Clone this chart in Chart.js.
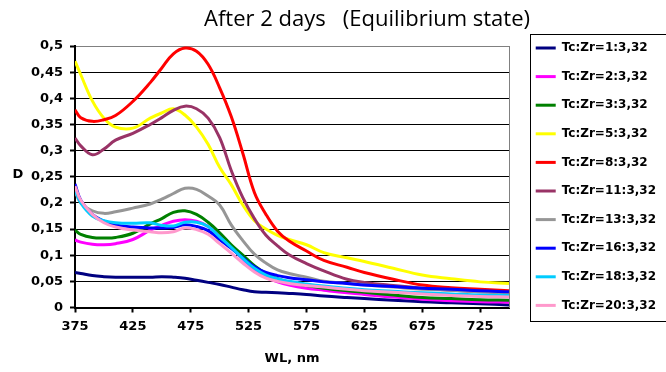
<!DOCTYPE html>
<html>
<head>
<meta charset="utf-8">
<script src="https://cdn.jsdelivr.net/npm/chart.js@4.4.0/dist/chart.umd.min.js"></script>
<style>
  html, body { margin: 0; padding: 0; background: #fff; }
</style>
</head>
<body>
<canvas id="myChart" width="666" height="372"></canvas>
<script>
// 波長 (nm)
var wl = [375, 380, 390, 400, 410, 425, 440, 450, 460, 470, 480, 490, 500, 510, 520, 530, 540, 550, 560, 575, 590, 610, 625, 650, 675, 700, 725, 750];

// 各系列の吸光度 D
var d1  = [0.067, 0.065, 0.061, 0.059, 0.058, 0.058, 0.058, 0.059, 0.058, 0.056, 0.052, 0.048, 0.044, 0.039, 0.034, 0.030, 0.029, 0.028, 0.027, 0.025, 0.022, 0.019, 0.017, 0.014, 0.011, 0.009, 0.007, 0.005];
var d2  = [0.129, 0.125, 0.121, 0.120, 0.122, 0.130, 0.148, 0.157, 0.165, 0.168, 0.165, 0.155, 0.138, 0.115, 0.093, 0.073, 0.058, 0.049, 0.043, 0.037, 0.033, 0.028, 0.025, 0.020, 0.016, 0.013, 0.011, 0.010];
var d3  = [0.148, 0.140, 0.134, 0.133, 0.134, 0.142, 0.160, 0.170, 0.182, 0.185, 0.178, 0.163, 0.143, 0.120, 0.100, 0.080, 0.065, 0.055, 0.048, 0.042, 0.037, 0.032, 0.029, 0.024, 0.019, 0.017, 0.015, 0.014];
var d5  = [0.471, 0.445, 0.395, 0.362, 0.345, 0.343, 0.362, 0.372, 0.380, 0.368, 0.345, 0.312, 0.268, 0.235, 0.196, 0.166, 0.150, 0.138, 0.130, 0.120, 0.105, 0.095, 0.088, 0.075, 0.062, 0.055, 0.049, 0.046];
var d8  = [0.378, 0.363, 0.356, 0.359, 0.367, 0.394, 0.430, 0.458, 0.485, 0.496, 0.490, 0.465, 0.420, 0.365, 0.295, 0.220, 0.178, 0.146, 0.127, 0.108, 0.090, 0.077, 0.067, 0.054, 0.043, 0.038, 0.035, 0.032];
var d11 = [0.324, 0.309, 0.292, 0.303, 0.320, 0.333, 0.350, 0.363, 0.377, 0.385, 0.380, 0.362, 0.325, 0.262, 0.210, 0.170, 0.138, 0.118, 0.101, 0.084, 0.070, 0.054, 0.048, 0.042, 0.037, 0.033, 0.030, 0.028];
var d13 = [0.222, 0.200, 0.185, 0.180, 0.183, 0.190, 0.198, 0.207, 0.218, 0.228, 0.226, 0.213, 0.196, 0.158, 0.128, 0.102, 0.085, 0.072, 0.065, 0.058, 0.050, 0.046, 0.043, 0.039, 0.035, 0.033, 0.030, 0.028];
var d16 = [0.236, 0.205, 0.178, 0.165, 0.158, 0.154, 0.152, 0.152, 0.153, 0.158, 0.155, 0.147, 0.130, 0.113, 0.095, 0.078, 0.067, 0.061, 0.057, 0.053, 0.049, 0.046, 0.043, 0.040, 0.037, 0.035, 0.032, 0.030];
var d18 = [0.225, 0.200, 0.175, 0.166, 0.162, 0.161, 0.162, 0.157, 0.156, 0.163, 0.163, 0.155, 0.135, 0.115, 0.094, 0.075, 0.062, 0.055, 0.050, 0.045, 0.041, 0.037, 0.034, 0.031, 0.028, 0.026, 0.024, 0.023];
var d20 = [0.232, 0.205, 0.178, 0.162, 0.154, 0.148, 0.145, 0.143, 0.145, 0.152, 0.149, 0.140, 0.122, 0.104, 0.085, 0.068, 0.056, 0.050, 0.046, 0.042, 0.039, 0.035, 0.032, 0.029, 0.026, 0.023, 0.021, 0.020];

var names = ["Tc:Zr=1:3,32", "Tc:Zr=2:3,32", "Tc:Zr=3:3,32", "Tc:Zr=5:3,32", "Tc:Zr=8:3,32",
             "Tc:Zr=11:3,32", "Tc:Zr=13:3,32", "Tc:Zr=16:3,32", "Tc:Zr=18:3,32", "Tc:Zr=20:3,32"];
var colors = ["#000080", "#FF00FF", "#008000", "#FFFF00", "#FF0000",
              "#993366", "#969696", "#0000FF", "#00CCFF", "#FF99CC"];
var series = [d1, d2, d3, d5, d8, d11, d13, d16, d18, d20];

// 目盛り
var xTicks = [375, 425, 475, 525, 575, 625, 675, 725];
var yTicks = [0, 0.05, 0.1, 0.15, 0.2, 0.25, 0.3, 0.35, 0.4, 0.45, 0.5];

var titleText = "After 2 days   (Equilibrium state)";
var boldFont = "DejaVu Sans";

var datasets = series.map(function(s, i) {
  return {
    label: names[i],
    data: wl.map(function(x, j) { return {x: x, y: s[j]}; }),
    borderColor: colors[i],
    backgroundColor: colors[i],
    borderWidth: 3,
    pointRadius: 0,
    fill: false,
    tension: 0.4,
    order: series.length - i   // Excelと同じく後の系列を上に
  };
});

// タイトル、縦軸ラベル、凡例の枠
var decor = {
  id: 'decor',
  afterDraw: function(chart) {
    var ctx = chart.ctx;
    ctx.save();
    ctx.fillStyle = '#000';
    ctx.textAlign = 'center';
    ctx.textBaseline = 'alphabetic';
    ctx.font = '22px "Open Sans"';
    ctx.fillText(titleText, 367, 26);

    ctx.font = 'bold 13px "' + boldFont + '"';
    ctx.fillText('D', 18, 178);

    var hb = chart.legend.legendHitBoxes;
    if (hb && hb.length) {
      var first = hb[0], last = hb[hb.length - 1];
      var left = Math.round(first.left - 6) + 0.5;
      var top = Math.round(first.top - 8) + 0.5;
      var bottom = Math.round(last.top + last.height + 10) + 0.5;
      ctx.strokeStyle = '#000';
      ctx.lineWidth = 1;
      ctx.strokeRect(left, top, chart.width + 10 - left, bottom - top);
    }
    ctx.restore();
  }
};

var ctx = document.getElementById("myChart").getContext('2d');

var myChart = new Chart(ctx, {
  type: 'line',
  data: { datasets: datasets },
  plugins: [decor],
  options: {
    responsive: false,
    animation: false,
    layout: { padding: 0 },
    plugins: {
      title: {
        display: true,
        text: ' ',
        fullSize: false,
        font: { size: 12 },
        padding: { top: 0, bottom: 31.6 }
      },
      tooltip: { enabled: false },
      legend: {
        position: 'right',
        align: 'start',
        maxWidth: 300,
        title: {
          display: true,
          text: ' ',
          font: { size: 12 },
          padding: { top: 5, bottom: 6 }
        },
        labels: {
          color: '#000',
          font: { family: boldFont, size: 12, weight: 'bold' },
          boxWidth: 20,
          boxHeight: 3,
          padding: 16.6,
          sort: function(a, b) { return a.datasetIndex - b.datasetIndex; },
          generateLabels: function(chart) {
            var items = Chart.defaults.plugins.legend.labels.generateLabels(chart);
            items.forEach(function(it) { it.lineWidth = 0; });
            return items;
          }
        }
      }
    },
    scales: {
      x: {
        type: 'linear',
        min: 375,
        max: 750,
        afterBuildTicks: function(s) {
          s.ticks = xTicks.map(function(v) { return {value: v}; });
        },
        afterFit: function(s) { s.height = 64.5; },
        ticks: {
          color: '#000',
          padding: 6,
          maxRotation: 0,
          font: { family: boldFont, size: 13, weight: 'bold' }
        },
        grid: {
          drawOnChartArea: false,
          drawTicks: true,
          tickLength: 5,
          tickColor: '#000',
          tickWidth: 2
        },
        border: { color: '#000', width: 2 },
        title: {
          display: true,
          text: 'WL, nm',
          color: '#000',
          font: { family: boldFont, size: 13, weight: 'bold' },
          padding: { top: 4, bottom: 6 }
        }
      },
      y: {
        min: 0,
        max: 0.5,
        afterBuildTicks: function(s) {
          s.ticks = yTicks.map(function(v) { return {value: v}; });
        },
        afterFit: function(s) { s.width = 75; },
        ticks: {
          color: '#000',
          padding: 7,
          font: { family: boldFont, size: 13, weight: 'bold' },
          callback: function(v) { return String(Math.round(v * 100) / 100).replace('.', ','); }
        },
        grid: {
          color: function(c) { return (c.tick && c.tick.value === 0.5) ? '#808080' : '#000000'; },
          lineWidth: 1,
          tickLength: 5,
          tickColor: '#000',
          tickWidth: 2
        },
        border: { color: '#000', width: 2 }
      },
      // 右側の枠線と凡例までの余白用
      y2: {
        position: 'right',
        display: true,
        min: 0,
        max: 0.5,
        ticks: { display: false },
        grid: { display: false, drawTicks: false },
        border: { display: true, color: '#808080', width: 1 },
        afterFit: function(s) {
          s.width = Math.max(0, 666 - s.chart.legend.width - 509);
        }
      }
    }
  }
});
</script>
</body>
</html>
